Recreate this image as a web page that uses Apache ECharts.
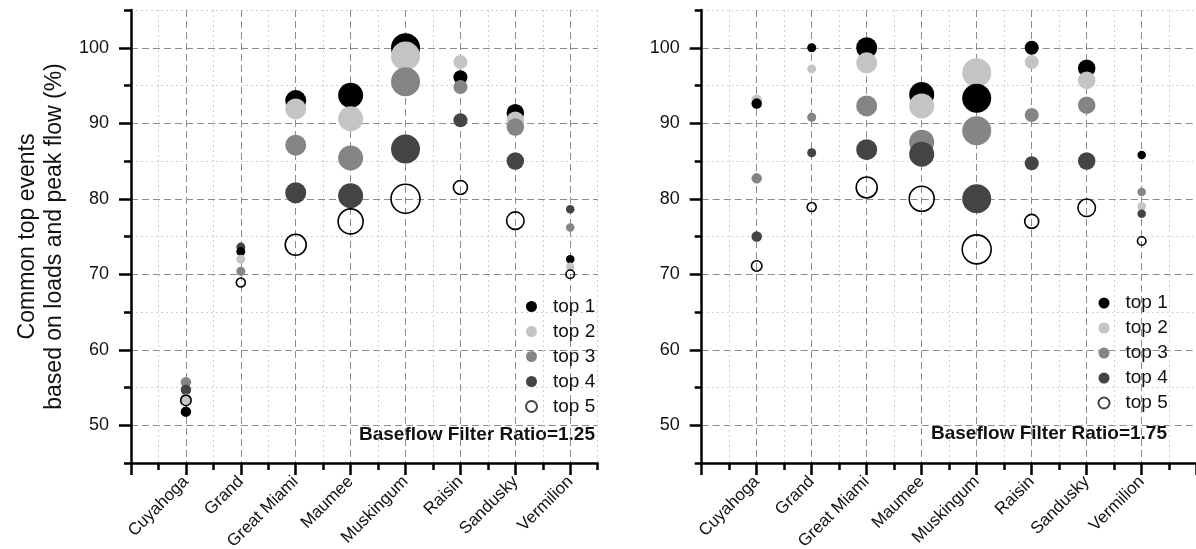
<!DOCTYPE html>
<html>
<head>
<meta charset="utf-8">
<title>Common top events</title>
<script src="https://cdn.jsdelivr.net/npm/echarts@6/dist/echarts.min.js"></script>
<style>
  html, body { margin: 0; padding: 0; background: #fff; }
  #chart { width: 1196px; height: 549px; }
</style>
</head>
<body>
<div id="chart"></div>
<script>
const rivers = ["Cuyahoga", "Grand", "Great Miami", "Maumee", "Muskingum", "Raisin", "Sandusky", "Vermilion"];
const bubbleSize = [10.5, 9, 21, 25, 29, 14, 17.5, 8.5];
const ranks = ["top 1", "top 2", "top 3", "top 4", "top 5"];

// baseflow filter ratio = 1.25
const top1_125 = [51.8, 73.0, 93.0, 93.7, 100.0, 96.1, 91.4, 72.0];
const top2_125 = [53.5, 72.0, 91.9, 90.6, 98.9, 98.1, 90.4, 71.0];
const top3_125 = [55.7, 70.4, 87.1, 85.4, 95.5, 94.8, 89.5, 76.2];
const top4_125 = [54.7, 73.6, 80.8, 80.4, 86.6, 90.4, 85.0, 78.6];
const top5_125 = [53.3, 68.9, 73.9, 77.0, 80.0, 81.5, 77.1, 70.0];

// baseflow filter ratio = 1.75
const top1_175 = [92.6, 100.0, 100.0, 93.8, 93.3, 100.0, 97.3, 85.8];
const top2_175 = [93.1, 97.2, 98.0, 92.3, 96.7, 98.1, 95.7, 79.0];
const top3_175 = [82.7, 90.8, 92.3, 87.5, 89.0, 91.1, 92.4, 80.9];
const top4_175 = [75.0, 86.1, 86.5, 85.9, 80.0, 84.7, 85.0, 78.0];
const top5_175 = [71.1, 78.9, 81.5, 80.0, 73.3, 77.0, 78.8, 74.4];

const yMajor = [50, 60, 70, 80, 90, 100];
const yMinor = [45, 55, 65, 75, 85, 95, 105];

const rankStyle = [
    { color: "#000000", opacity: 1 },
    { color: "#c4c4c4", opacity: 1 },
    { color: "#858585", opacity: 1 },
    { color: "#444444", opacity: 1 },
    { color: "rgba(0,0,0,0)", borderColor: "#000", borderWidth: 1.6, opacity: 1 },
];

const font = "Liberation Sans, Arial, sans-serif";
const majorLine = { show: true, lineStyle: { color: "#8c8c8c", type: [7, 4], width: 1 } };
const minorLine = { show: true, lineStyle: { color: "#d0d0d0", type: [2, 3], width: 1 } };

const panels = [
    { values: [top1_125, top2_125, top3_125, top4_125, top5_125], maxX: 8.5,
      grid: { left: 131, top: 10, width: 466.7, height: 453, outerBoundsMode: "none" },
      note: "Baseflow Filter Ratio=1.25", noteX: 595, noteY: 436,
      legend: { left: 520, top: 292 } },
    { values: [top1_175, top2_175, top3_175, top4_175, top5_175], maxX: 9,
      grid: { left: 701.7, top: 10, width: 495, height: 453, outerBoundsMode: "none" },
      note: "Baseflow Filter Ratio=1.75", noteX: 1167, noteY: 435,
      legend: { left: 1092.5, top: 288.5 } },
];

const grids = [], xAxes = [], yAxes = [], series = [], graphics = [], legends = [];

panels.forEach((p, g) => {
    grids.push(p.grid);
    const xMajor = [], xMinor = [];
    for (let v = 0; v <= p.maxX; v += 0.5) {
        if (v % 1 === 0) xMajor.push(v); else xMinor.push(v);
    }
    xAxes.push({
        type: "value", gridIndex: g, position: "bottom", min: 0, max: p.maxX,
        axisLine: { show: true, onZero: false, lineStyle: { color: "#000", width: 2.5 } },
        axisTick: { show: true, length: 12, customValues: xMajor, lineStyle: { color: "#000", width: 2.5 } },
        axisLabel: {
            customValues: [1, 2, 3, 4, 5, 6, 7, 8], rotate: 45, margin: 16,
            fontSize: 17, fontFamily: font, color: "#111",
            formatter: (v) => rivers[Math.round(v) - 1] || "",
        },
        splitLine: majorLine,
    });
    xAxes.push({
        type: "value", gridIndex: g, position: "bottom", min: 0, max: p.maxX,
        axisLine: { show: false, onZero: false },
        axisTick: { show: true, length: 7, customValues: xMinor, lineStyle: { color: "#000", width: 2.5 } },
        axisLabel: { show: false },
        splitLine: minorLine,
    });
    yAxes.push({
        type: "value", gridIndex: g, position: "left", min: 45, max: 105,
        axisLine: { show: true, onZero: false, lineStyle: { color: "#000", width: 2.5 } },
        axisTick: { show: true, length: 12, customValues: yMajor, lineStyle: { color: "#000", width: 2.5 } },
        axisLabel: { customValues: yMajor, margin: 22, fontSize: 18, fontFamily: font, color: "#111" },
        splitLine: majorLine,
        name: g === 0 ? "Common top events\nbased on loads and peak flow (%)" : "",
        nameLocation: "middle", nameGap: 63, nameRotate: 90,
        nameTextStyle: { fontSize: 23, lineHeight: 27, fontFamily: font, color: "#111" },
    });
    yAxes.push({
        type: "value", gridIndex: g, position: "left", min: 45, max: 105,
        axisLine: { show: false, onZero: false },
        axisTick: { show: true, length: 7, customValues: yMinor, lineStyle: { color: "#000", width: 2.5 } },
        axisLabel: { show: false },
        splitLine: minorLine,
    });

    // lower values are painted last, as in the original figure
    const pts = [];
    p.values.forEach((arr, r) => {
        arr.forEach((v, i) => {
            pts.push({ value: [i + 1, v, bubbleSize[i]], itemStyle: rankStyle[r] });
        });
    });
    pts.sort((a, b) => b.value[1] - a.value[1]);
    series.push({
        type: "scatter", xAxisIndex: 2 * g, yAxisIndex: 2 * g,
        symbol: "circle", symbolSize: (d) => d[2], data: pts, z: 5,
        itemStyle: { opacity: 1 },
    });

    graphics.push({
        type: "text", right: 1196 - p.noteX, top: p.noteY - 11,
        style: { text: p.note, font: "bold 19px " + font, fill: "#111" },
    });

    legends.push({
        left: p.legend.left, top: p.legend.top,
        orient: "vertical", icon: "circle", itemWidth: 11, itemHeight: 11, itemGap: 6,
        data: ranks, selectedMode: false,
        textStyle: { fontSize: 19, lineHeight: 18, fontFamily: font, color: "#111", padding: [0, 0, 0, 11] },
    });
});

// legend entries only
ranks.forEach((name, r) => {
    series.push({
        type: "scatter", name: name, xAxisIndex: 0, yAxisIndex: 0, data: [],
        symbol: "circle",
        itemStyle: r === 4 ? { color: "rgba(0,0,0,0)", borderColor: "#444", borderWidth: 1, opacity: 1 } : rankStyle[r],
    });
});

const chart = echarts.init(document.getElementById("chart"));
chart.setOption({
    animation: false,
    backgroundColor: "#ffffff",
    grid: grids,
    xAxis: xAxes,
    yAxis: yAxes,
    legend: legends,
    graphic: graphics,
    series: series,
});
</script>
</body>
</html>
